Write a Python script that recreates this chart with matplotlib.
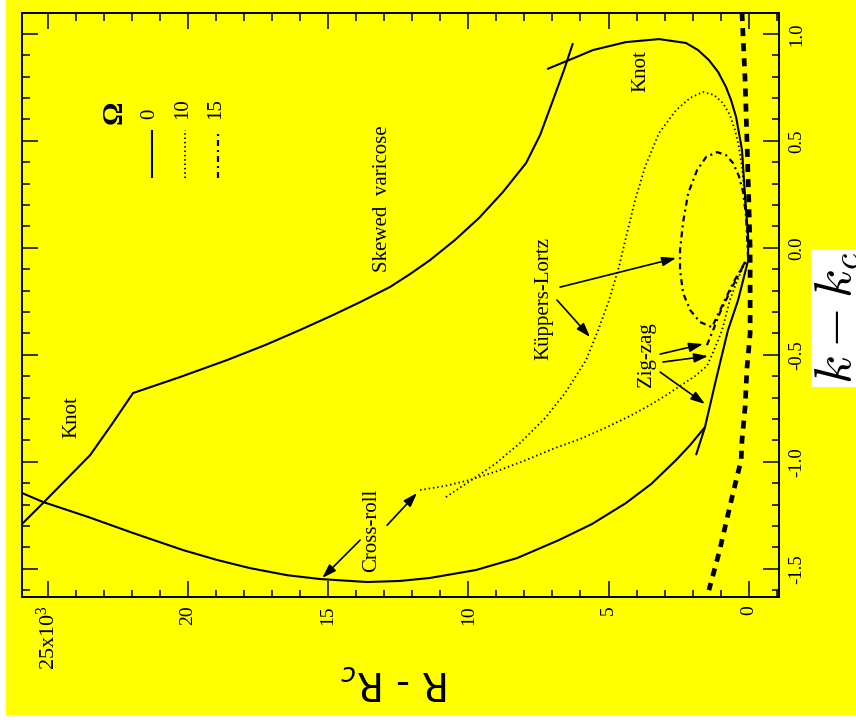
import matplotlib
matplotlib.use("Agg")
import matplotlib.pyplot as plt
from matplotlib.ticker import FixedLocator, MultipleLocator
from matplotlib.patches import Rectangle

# ---- data: R - R_c (units of 10^3) against k - k_c --------------------------
# Omega = 0, skewed-varicose / knot boundary (left branch)
sv_R = [25.92, 25.17, 23.49, 22.71, 21.96, 20.28, 18.61, 17.25, 16.00, 14.82,
        13.86, 12.79, 12.08, 11.37, 10.48, 9.62, 8.77, 7.94, 7.44, 6.98, 6.59, 6.27]
sv_k = [-1.291, -1.193, -0.969, -0.824, -0.679, -0.604, -0.525, -0.455, -0.384,
        -0.314, -0.254, -0.183, -0.123, -0.058, 0.036, 0.139, 0.260, 0.396, 0.527,
        0.690, 0.830, 0.956]

# Omega = 0, knot boundary at large k
knot_R = [7.19, 6.41, 5.55, 4.38, 3.20, 2.24, 1.81, 1.42, 1.09, 0.81, 0.63, 0.45,
          0.24, 0.13, 0.02, 0.02]
knot_k = [0.835, 0.877, 0.924, 0.961, 0.975, 0.957, 0.924, 0.877, 0.821, 0.751,
          0.690, 0.611, 0.457, 0.237, 0.050, -0.058]

# Omega = 0, cross-roll boundary
cr_R = [25.92, 25.17, 23.56, 21.96, 20.17, 18.96, 17.79, 16.47, 15.29, 13.61,
        12.44, 11.37, 9.73, 8.26, 6.77, 5.59, 4.38, 3.48, 2.59, 2.09, 1.56]
cr_k = [-1.146, -1.188, -1.258, -1.333, -1.413, -1.459, -1.497, -1.530, -1.548,
        -1.562, -1.557, -1.543, -1.506, -1.450, -1.366, -1.291, -1.193, -1.104,
        -0.992, -0.922, -0.838]

# Omega = 0, zig-zag boundary
zz0_R = [0.02, 0.38, 0.74, 1.17, 1.56, 1.88]
zz0_k = [-0.058, -0.245, -0.385, -0.618, -0.838, -0.969]

# Omega = 10, Kueppers-Lortz boundary
kl10_R = [10.80, 9.94, 9.05, 8.16, 7.26, 6.55, 5.80, 5.37, 4.98, 4.63, 4.34, 4.05,
          3.70, 3.20, 2.59, 2.09, 1.63, 1.24, 0.92, 0.67, 0.49, 0.35, 0.24, 0.13,
          0.06, 0.02]
kl10_k = [-1.165, -1.090, -1.011, -0.913, -0.796, -0.679, -0.525, -0.385, -0.245,
          -0.090, 0.069, 0.223, 0.377, 0.536, 0.643, 0.700, 0.728, 0.714, 0.676,
          0.620, 0.550, 0.471, 0.377, 0.223, 0.083, -0.057]

# Omega = 10, zig-zag boundary
zz10_R = [11.72, 10.83, 9.97, 8.98, 7.94, 6.91, 6.02, 5.12, 4.23, 3.52, 2.99, 2.45,
          1.92, 1.49, 1.27, 1.09, 0.95, 0.67, 0.42, 0.20, 0.02]
zz10_k = [-1.132, -1.113, -1.086, -1.044, -0.992, -0.936, -0.894, -0.842, -0.786,
          -0.735, -0.693, -0.646, -0.600, -0.553, -0.488, -0.431, -0.385, -0.244,
          -0.156, -0.090, -0.057]

# Omega = 15, Kueppers-Lortz loop
kl15_R = [0.13, 0.56, 1.02, 1.31, 1.74, 2.09, 2.34, 2.45, 2.45, 2.34, 2.16, 1.84,
          1.52, 1.13, 0.81, 0.56, 0.35, 0.20, 0.10, 0.06, 0.02]
kl15_k = [-0.067, -0.165, -0.291, -0.371, -0.347, -0.291, -0.212, -0.104, -0.011,
          0.120, 0.255, 0.363, 0.424, 0.447, 0.433, 0.396, 0.335, 0.260, 0.153,
          0.059, -0.058]

# Omega = 15, zig-zag boundary
zz15_R = [1.49, 1.27, 1.02, 0.56, 0.13]
zz15_k = [-0.455, -0.385, -0.301, -0.176, -0.067]

# neutral (onset) curve
nc_R = [0.24, 0.13, 0.02, -0.05, -0.05, 0.06, 0.13, 0.24, 0.27, 0.56, 1.06, 1.42]
nc_k = [1.097, 0.784, 0.316, 0.0, -0.40, -0.558, -0.745, -0.900, -0.992, -1.146,
        -1.426, -1.600]

x_ticks = [25, 20, 15, 10, 5, 0]
x_tick_labels = ["25x10$^3$", "20", "15", "10", "5", "0"]
y_ticks = [-1.5, -1.0, -0.5, 0.0, 0.5, 1.0]
y_tick_labels = ["-1.5", "-1.0", "-0.5", "0.0", "0.5", "1.0"]
legend_titles = ["0", "10", "15"]

# ---- style ---------------------------------------------------------------
SERIF = ["Liberation Serif", "DejaVu Serif"]
plt.rcParams["font.family"] = SERIF
plt.rcParams["mathtext.fontset"] = "custom"
plt.rcParams["mathtext.rm"] = "Liberation Serif"
plt.rcParams["mathtext.it"] = "Liberation Serif:italic"
plt.rcParams["mathtext.bf"] = "Liberation Serif:bold"

YELLOW = "#ffff00"
W, H = 856, 723

fig = plt.figure(figsize=(W / 100, H / 100), dpi=100)
fig.patch.set_facecolor("white")
fig.add_artist(Rectangle((6 / W, 8 / H), 1, 1, transform=fig.transFigure,
                         facecolor=YELLOW, edgecolor="none", zorder=-10))

ax = fig.add_axes([22 / W, 1 - 597 / H, 757 / W, 584 / H])
ax.set_facecolor(YELLOW)
ax.set_xlim(25.92, -1.08)
ax.set_ylim(-1.632, 1.097)

for s in ax.spines.values():
    s.set_linewidth(1.4)

ax.xaxis.set_major_locator(FixedLocator(x_ticks))
ax.xaxis.set_minor_locator(MultipleLocator(1))
ax.set_xticks(x_ticks, x_tick_labels)
ax.yaxis.set_major_locator(FixedLocator(y_ticks))
ax.yaxis.set_minor_locator(MultipleLocator(0.1))
ax.set_yticks(y_ticks, y_tick_labels)
ax.tick_params(which="both", direction="in", top=True, bottom=True, left=True,
               right=True, labelleft=False, labelright=True, width=1.1)
ax.tick_params(which="major", length=11.5)
ax.tick_params(which="minor", length=5.4)
ax.tick_params(axis="x", labelrotation=90, labelsize=14, pad=6)
ax.tick_params(axis="y", labelrotation=90, labelsize=13.5, pad=7)
for lab in ax.get_yticklabels():
    lab.set_va("center")
first = ax.get_xticklabels()[0]
first.set_fontsize(16)

# ---- curves --------------------------------------------------------------
solid = dict(color="black", lw=1.5, solid_capstyle="butt", solid_joinstyle="round")
dotted = dict(color="black", lw=1.3, linestyle=(0, (0.8, 1.6)))
dashdot = dict(color="black", lw=1.6, linestyle=(0, (2.7, 1.8, 0.9, 1.8)))

ax.plot(sv_R, sv_k, **solid)
ax.plot(knot_R, knot_k, **solid)
ax.plot(cr_R, cr_k, **solid)
ax.plot(zz0_R, zz0_k, **solid)
ax.plot(kl10_R, kl10_k, **dotted)
ax.plot(zz10_R, zz10_k, **dotted)
ax.plot(kl15_R, kl15_k, **dashdot)
ax.plot(zz15_R, zz15_k, **dashdot)
ax.plot(nc_R, nc_k, color="black", lw=3.4, linestyle=(0, (1.7, 1.5)), clip_on=False)

# ---- labels and arrows ---------------------------------------------------
txt = dict(rotation=90, ha="center", va="center", fontsize=15, color="black")
ax.text(13.07, 0.231, "Skewed  varicose", **txt)
ax.text(3.84, 0.826, "Knot", **txt)
ax.text(24.13, -0.791, "Knot", **txt)
ax.text(7.30, -0.235, "Küppers-Lortz", **txt)
ax.text(3.63, -0.501, "Zig-zag", **txt)
ax.text(13.44, -1.319, "Cross-roll", **txt)

arrow = dict(arrowstyle="-|>,head_length=0.6,head_width=0.2", color="black",
             lw=1.2, mutation_scale=14, shrinkA=0, shrinkB=0)
for tail, tip in [((6.73, -0.184), (2.59, -0.048)),
                  ((6.84, -0.244), (5.66, -0.417)),
                  ((3.16, -0.497), (1.63, -0.450)),
                  ((3.06, -0.534), (1.45, -0.506)),
                  ((3.16, -0.581), (1.56, -0.730)),
                  ((13.86, -1.366), (15.21, -1.543)),
                  ((12.90, -1.297), (11.83, -1.146))]:
    ax.annotate("", xy=tip, xytext=tail, arrowprops=arrow)

# ---- legend (drawn in the rotated frame) ---------------------------------
def fx(px):
    return (px - 22) / 757


def fy(py):
    return (597 - py) / 584


ax.text(fx(114), fy(112), "Ω", transform=ax.transAxes, rotation=90,
        ha="center", va="center", fontsize=21, fontweight="bold")
for xp, style, title in zip([150, 183, 216], [solid, dotted, dashdot], legend_titles):
    ax.plot([fx(xp + 2), fx(xp + 2)], [fy(178), fy(130)], transform=ax.transAxes,
            **style)
    ax.text(fx(xp), fy(119), title, transform=ax.transAxes, rotation=90,
            rotation_mode="anchor", ha="left", va="center", fontsize=15)

# ---- axis titles ---------------------------------------------------------
fig.text(395 / W, 1 - 682 / H, "R - R$_c$", rotation=180, ha="center", va="center",
         fontsize=28, family=["Liberation Sans Narrow", "DejaVu Sans"],
         math_fontfamily="dejavusans")
fig.text(814 / W, 1 - 318 / H, r"$k - k_c$", rotation=90, ha="left", va="center",
         fontsize=38, math_fontfamily="cm",
         bbox=dict(facecolor="white", edgecolor="none", pad=2))

fig.savefig("out.png", dpi=100, facecolor=fig.get_facecolor())
